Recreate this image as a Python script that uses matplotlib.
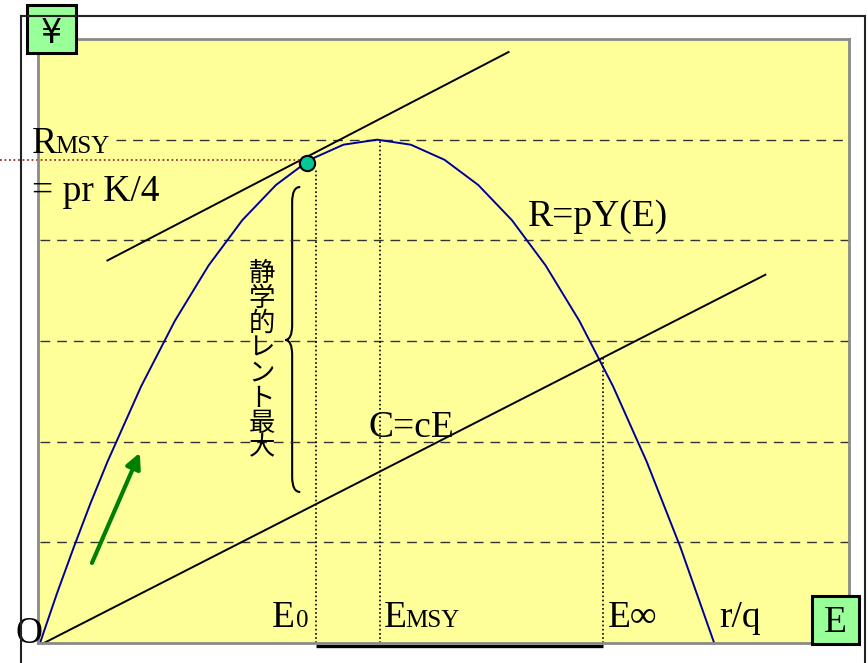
import matplotlib.pyplot as plt
from matplotlib.patches import Rectangle, PathPatch
from matplotlib.path import Path
from matplotlib.lines import Line2D

# revenue curve R = pY(E)
effort = [0, 0.25, 0.5, 0.75, 1, 1.5, 2, 2.5, 3, 3.5, 4, 4.5, 5,
          5.5, 6, 6.5, 7, 7.5, 8, 8.5, 9, 9.5, 10]
revenue = [0, 0.49, 0.95, 1.39, 1.8, 2.55, 3.2, 3.75, 4.2, 4.55, 4.8, 4.95, 5.0,
           4.95, 4.8, 4.55, 4.2, 3.75, 3.2, 2.55, 1.8, 0.95, 0]

cost_slope = 0.34           # C = cE
cost_end = 10.76
tangent_x = [1.0, 6.95]
tangent_lift = 0.06
e0 = 4.095
e_msy = 5.04
e_inf = 8.35
dot = (3.96, 4.77)
grid_levels = [1, 2, 3, 4, 5]
jp_label = "静学的レント最大"

W, H = 868, 663
SERIF = ["Liberation Serif", "DejaVu Serif"]


def fx(px):
    return px / W


def fy(py):
    return 1 - py / H


fig = plt.figure(figsize=(W / 100, H / 100), dpi=100)

# outer frame
for xs, ys in [([21, 21], [663, 16]), ([21, 865], [16, 16]), ([865, 865], [16, 663])]:
    fig.add_artist(Line2D([fx(x) for x in xs], [fy(y) for y in ys],
                          color="#222222", lw=1.5))

ax = fig.add_axes([fx(38), fy(643), fx(849 - 38), (643 - 39) / H])
ax.set_facecolor("#FFFF99")
ax.set_xlim(-0.03, 12.0)
ax.set_ylim(0, 6.0)
ax.set_xticks([])
ax.set_yticks([])
for s in ax.spines.values():
    s.set_color("#8a8a8a")
    s.set_linewidth(2)

# dashed levels
for lv in grid_levels:
    x_start = 1.12 if lv == 5 else 0
    ax.plot([x_start, 12], [lv, lv], color="#333333", lw=1,
            dashes=(7, 5))

# revenue curve
ax.plot(effort, revenue, color="#000099", lw=1.4)

# cost line and parallel tangent
ax.plot([0.05, cost_end], [0.05 * cost_slope - 0.02, cost_end * cost_slope],
        color="black", lw=1.4)
ty = [dot[1] + tangent_lift + 0.348 * (x - dot[0]) for x in tangent_x]
ax.plot(tangent_x, ty, color="black", lw=1.4)

# vertical dotted markers
ax.plot([e0, e0], [0, dot[1] - 0.05], color="black", lw=1.2, ls=(0, (1, 1.5)))
ax.plot([e_msy, e_msy], [0, 5.0], color="black", lw=1.2, ls=(0, (1, 1.5)))
ax.plot([e_inf, e_inf], [0, e_inf * cost_slope], color="black", lw=1.2,
        ls=(0, (1, 1.5)))

# red dotted guide to the y axis
ax.plot([-0.6, dot[0]], [4.8, 4.8], color="#993333", lw=1.3,
        ls=(0, (1, 1.5)), clip_on=False)

# bottom thick segment
ax.plot([e0, e_inf], [-0.025, -0.025], color="black", lw=2.4, clip_on=False,
        solid_capstyle="butt")

# tangency point
ax.plot(*dot, "o", ms=11, mfc="#00C896", mec="black", mew=1.5, zorder=5)

# brace
xm, xt, xe = 3.74, 3.635, 3.86
ytop, ybot, ytip, d = 4.53, 1.50, 3.01, 0.15
verts = [(xe, ytop), (xm, ytop), (xm, ytop - d),
         (xm, ytip + d), (xm, ytip), (xt, ytip),
         (xm, ytip), (xm, ytip - d),
         (xm, ybot + d), (xm, ybot), (xe, ybot)]
codes = [Path.MOVETO, Path.CURVE3, Path.CURVE3,
         Path.LINETO, Path.CURVE3, Path.CURVE3,
         Path.CURVE3, Path.CURVE3,
         Path.LINETO, Path.CURVE3, Path.CURVE3]
ax.add_patch(PathPatch(Path(verts, codes), fill=False, lw=1.5, color="black"))

# vertical japanese label
for i, ch in enumerate(jp_label):
    ax.text(3.29, (643 - (274 + 24.9 * i)) / 100.6, ch, ha="center",
            va="center", fontsize=19, family=["Noto Sans CJK JP", "DejaVu Sans"])

# green arrow
ax.annotate("", xy=(1.48, 1.89), xytext=(0.77, 0.795),
            arrowprops=dict(arrowstyle="-|>,head_length=0.9,head_width=0.45",
                            color="#008000", lw=3, shrinkA=0, shrinkB=0))

# labels
big = dict(family=SERIF, fontsize=27, va="baseline", color="black")
small = dict(family=SERIF, fontsize=18, va="baseline", color="black")
ax.text(-0.12, 4.87, "R", **big)
ax.text(0.22, 4.87, "MSY", **small)
ax.text(-0.12, 4.39, "= pr K/4", **big)
ax.text(7.24, 4.145, "R=pY(E)", **big)
ax.text(4.87, 2.05, "C=cE", **big)
ax.text(3.44, 0.16, "E", **big)
ax.text(3.80, 0.16, "0", **small)
ax.text(5.10, 0.16, "E", **big)
ax.text(5.42, 0.16, "MSY", **small)
ax.text(8.43, 0.16, "E∞", **big)
ax.text(10.07, 0.16, "r/q", **big)
ax.text(-0.37, 0.0, "O", **big)

# axis name boxes
fig.add_artist(Rectangle((fx(27), fy(53)), fx(49), 48 / H, transform=fig.transFigure,
                         facecolor="#99FF99", edgecolor="black", lw=2.2))
fig.text(fx(51.5), fy(43), "¥", ha="center", va="baseline", fontsize=24,
         family="DejaVu Sans")
fig.add_artist(Rectangle((fx(812), fy(644)), fx(47), 48 / H, transform=fig.transFigure,
                         facecolor="#99FF99", edgecolor="black", lw=2.2, zorder=5))
fig.text(fx(835.5), fy(632), "E", ha="center", va="baseline", fontsize=27,
         family=SERIF, zorder=6)

fig.savefig("out.png", dpi=100)
